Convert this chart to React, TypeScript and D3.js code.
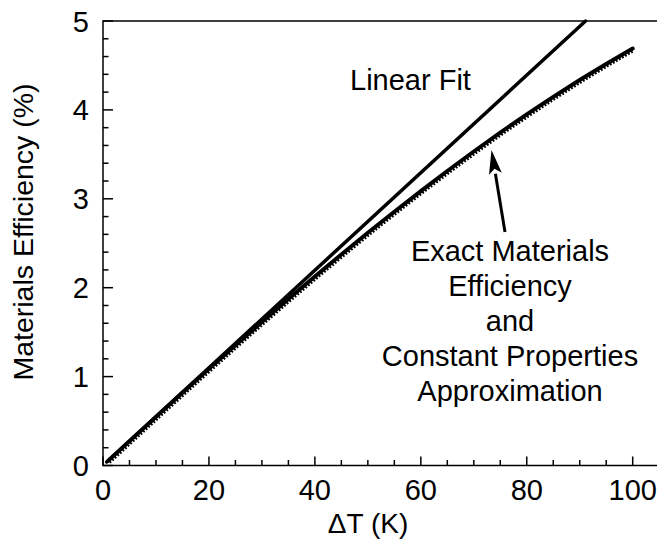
import React, { useEffect, useRef } from 'react';
import * as d3 from 'd3';

// values
const deltaT = [1, 5, 10, 15, 20, 25, 30, 35, 40, 45, 50, 55, 60, 65, 70, 75, 80, 85, 90, 95, 100];
const exactEff = [0.055, 0.274, 0.547, 0.818, 1.087, 1.352, 1.614, 1.872, 2.125, 2.374, 2.618, 2.855, 3.087, 3.313, 3.532, 3.745, 3.949, 4.147, 4.336, 4.517, 4.69];
const fitT = [0.7, 91.1];
const fitEff = [0.04, 5.0];
const xTicks = [0, 20, 40, 60, 80, 100];
const yTicks = [0, 1, 2, 3, 4, 5];
const annotation = ['Exact Materials', 'Efficiency', 'and', 'Constant Properties', 'Approximation'];

const App = () => {
  const ref = useRef<SVGSVGElement>(null);

  useEffect(() => {
    const width = 657;
    const font = 'Arial, "Liberation Sans", sans-serif';
    const svg = d3.select(ref.current);
    svg.selectAll('*').remove();

    const x = d3.scaleLinear().domain([0, 100]).range([103, 632.7]);
    const y = d3.scaleLinear().domain([0, 5]).range([465.5, 21]);
    const left = x(0);
    const bottom = y(0);
    const top = y(5);

    // frame: left, bottom and top lines (right side is cut off)
    svg.append('path')
      .attr('d', `M${width},${top}H${left}V${bottom}H${width}`)
      .attr('fill', 'none')
      .attr('stroke', '#000')
      .attr('stroke-width', 1.5);

    // x ticks (inward)
    const xMinor = d3.range(0, 105, 5);
    svg.selectAll('.xt')
      .data(xMinor)
      .enter()
      .append('line')
      .attr('x1', (d) => x(d))
      .attr('x2', (d) => x(d))
      .attr('y1', bottom)
      .attr('y2', (d) => bottom - (d % 20 === 0 ? 9 : 5.5))
      .attr('stroke', '#000')
      .attr('stroke-width', 1.5);

    // y ticks (inward)
    const yMinor = d3.range(0, 26).map((i) => i * 0.2);
    svg.selectAll('.yt')
      .data(yMinor)
      .enter()
      .append('line')
      .attr('x1', left)
      .attr('x2', (d, i) => left + (i % 5 === 0 ? 10 : 5.5))
      .attr('y1', (d) => y(d))
      .attr('y2', (d) => y(d))
      .attr('stroke', '#000')
      .attr('stroke-width', 1.5);

    svg.selectAll('.xl')
      .data(xTicks)
      .enter()
      .append('text')
      .attr('x', (d) => x(d))
      .attr('y', 500)
      .attr('text-anchor', 'middle')
      .style('font-family', font)
      .style('font-size', '29px')
      .text((d) => d);

    svg.selectAll('.yl')
      .data(yTicks)
      .enter()
      .append('text')
      .attr('x', 89)
      .attr('y', (d) => y(d) + 10.5)
      .attr('text-anchor', 'end')
      .style('font-family', font)
      .style('font-size', '29px')
      .text((d) => d);

    svg.append('text')
      .attr('x', 368)
      .attr('y', 533)
      .attr('text-anchor', 'middle')
      .style('font-family', font)
      .style('font-size', '28px')
      .text('\u0394T (K)');

    svg.append('text')
      .attr('transform', 'translate(33,232) rotate(-90)')
      .attr('text-anchor', 'middle')
      .style('font-family', font)
      .style('font-size', '28.5px')
      .text('Materials Efficiency (%)');

    const line = d3.line<number>()
      .x((d, i) => x(deltaT[i]))
      .y((d) => y(d));

    const fitLine = d3.line<number>()
      .x((d, i) => x(fitT[i]))
      .y((d) => y(d));

    svg.append('path')
      .attr('d', fitLine(fitEff))
      .attr('fill', 'none')
      .attr('stroke', '#000')
      .attr('stroke-width', 3.5)
      .attr('stroke-linecap', 'round');

    svg.append('path')
      .attr('d', line(exactEff))
      .attr('fill', 'none')
      .attr('stroke', '#000')
      .attr('stroke-width', 4)
      .attr('stroke-linecap', 'round');

    // constant properties approximation markers, giving the jagged edge
    svg.append('path')
      .attr('d', line(exactEff))
      .attr('transform', 'translate(1.2,1.9)')
      .attr('fill', 'none')
      .attr('stroke', '#000')
      .attr('stroke-width', 3)
      .attr('stroke-dasharray', '1.8 1.7');

    svg.append('text')
      .attr('x', 350)
      .attr('y', 90)
      .style('font-family', font)
      .style('font-size', '29px')
      .text('Linear Fit');

    svg.selectAll('.ann')
      .data(annotation)
      .enter()
      .append('text')
      .attr('x', 510)
      .attr('y', (d, i) => 261 + i * 35)
      .attr('text-anchor', 'middle')
      .style('font-family', font)
      .style('font-size', '29px')
      .text((d) => d);

    // arrow from the annotation to the curve
    const tail: [number, number] = [505, 232];
    const tip: [number, number] = [491.5, 150];
    const ang = Math.atan2(tip[1] - tail[1], tip[0] - tail[0]);
    const headLen = 24;
    const headHalf = 6.5;
    const bx = tip[0] - headLen * Math.cos(ang);
    const by = tip[1] - headLen * Math.sin(ang);
    const nx = -Math.sin(ang);
    const ny = Math.cos(ang);
    svg.append('line')
      .attr('x1', tail[0])
      .attr('y1', tail[1])
      .attr('x2', bx)
      .attr('y2', by)
      .attr('stroke', '#000')
      .attr('stroke-width', 3);
    const nx2 = bx + 5 * Math.cos(ang);
    const ny2 = by + 5 * Math.sin(ang);
    svg.append('path')
      .attr('d', `M${tip[0]},${tip[1]}L${bx + headHalf * nx},${by + headHalf * ny}L${nx2},${ny2}L${bx - headHalf * nx},${by - headHalf * ny}Z`)
      .attr('fill', '#000');
  }, []);

  return (
    <svg
      ref={ref}
      width={657}
      height={542}
      style={{ display: 'block', position: 'absolute', left: 0, top: 0, background: '#fff' }}
    />
  );
};

export default App;
